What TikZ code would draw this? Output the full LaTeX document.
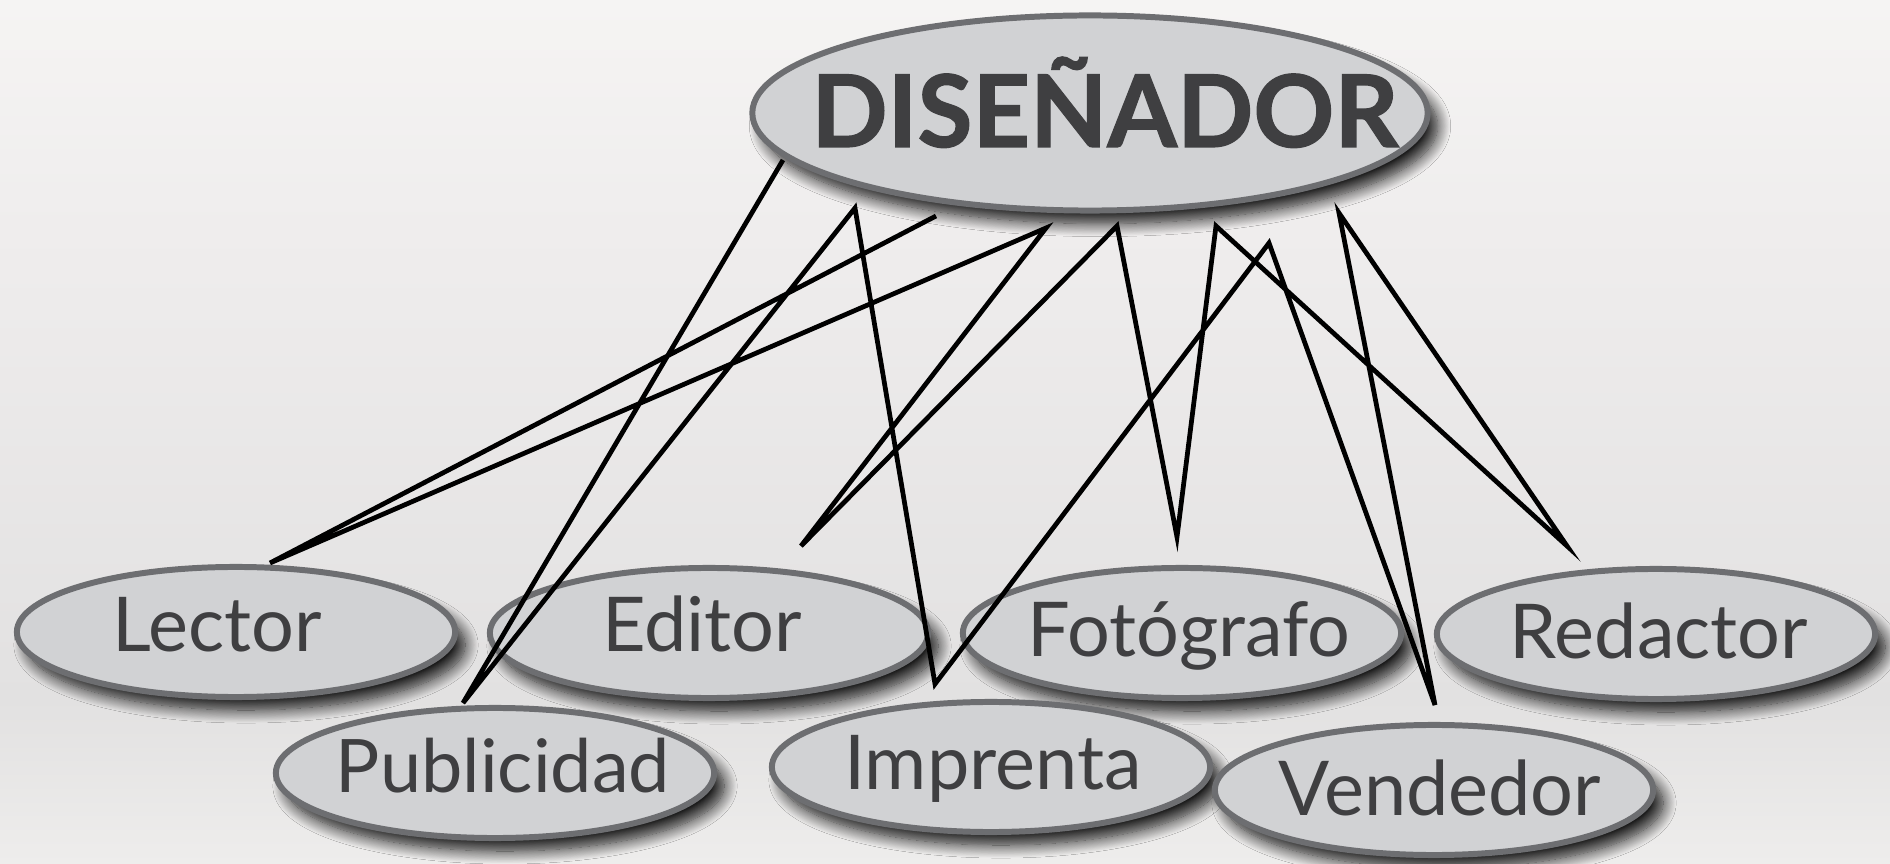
\documentclass[tikz,border=0pt]{standalone}
\usepackage{fontspec}
\setmainfont{Lato}
\newfontfamily\heavyfont{Lato}[UprightFont=* Bold, UprightFeatures={FakeBold=1.2}]
\usetikzlibrary{shapes.geometric,shadows.blur}
\definecolor{ovalfill}{HTML}{D1D2D4}
\definecolor{ovaldraw}{HTML}{6D6E71}
\definecolor{txtcol}{HTML}{3F3F41}
\definecolor{bgA}{HTML}{F5F4F3}
\definecolor{bgB}{HTML}{EFEDED}
\definecolor{bgC}{HTML}{E2E1E1}
\definecolor{bgD}{HTML}{EEEDEC}
\begin{document}
\begin{tikzpicture}[x=0.01cm,y=-0.01cm,
  oval/.style={ellipse, draw=ovaldraw, fill=ovalfill, line width=1.7pt, inner sep=0pt,
    minimum width=4.38cm, minimum height=1.30cm,
    blur shadow={shadow xshift=0.1cm, shadow yshift=-0.13cm, shadow blur radius=0.13cm,
      shadow blur steps=16, shadow opacity=90}},
  lbl/.style={text=txtcol, anchor=base, inner sep=0pt, font=\fontsize{21.5}{25}\selectfont},
  wire/.style={line width=1.35pt, black, line join=miter}
]
\useasboundingbox (0,0) rectangle (1890,864);
\shade[top color=bgA, bottom color=bgB] (0,0) rectangle (1890,231);
\shade[top color=bgB, bottom color=bgC] (0,229) rectangle (1890,701);
\shade[top color=bgC, bottom color=bgD] (0,699) rectangle (1890,864);

% top node
\node[oval, minimum width=6.75cm, minimum height=1.95cm] (dis) at (1090,113) {};
\node[lbl, font=\fontsize{28.5}{32}\heavyfont] (disT) at (1105,147) {DISEÑADOR};

% upper row
\node[oval] (lector) at (236,632) {};
\node[lbl] (lectorT) at (217,652) {Lector};
\node[oval] (editor) at (709,633) {};
\node[lbl] (editorT) at (702,652) {Editor};
\node[oval] (foto) at (1182,633) {};
\node[lbl] (fotoT) at (1189,657) {Fotógrafo};
\node[oval] (redac) at (1656,634) {};
\node[lbl] (redacT) at (1659,659) {Redactor};

% lower row
\node[oval] (publi) at (495,773) {};
\node[lbl, font=\fontsize{21}{25}\selectfont] (publiT) at (503,792) {Publicidad};
\node[oval] (impr) at (991,767) {};
\node[lbl] (imprT) at (993,790) {Imprenta};
\node[oval] (vend) at (1434,790) {};
\node[lbl] (vendT) at (1440,815) {Vendedor};

% zigzag connector vertices
\coordinate (p1) at (783,160);
\coordinate (p2) at (463,703);
\coordinate (p3) at (855,208);
\coordinate (p4) at (935,684);
\coordinate (p5) at (1269,243);
\coordinate (p6) at (1435,705);
\coordinate (p7) at (1339,213);
\coordinate (p8) at (1567,546);
\coordinate (p9) at (1216,226);
\coordinate (p10) at (1177,537);
\coordinate (p11) at (1117,226);
\coordinate (p12) at (801,546);
\coordinate (p13) at (1046,228);
\coordinate (p14) at (270,563);
\coordinate (p15) at (936,216);

\draw[wire] (p1) -- (p2) -- (p3) -- (p4) -- (p5) -- (p6) -- (p7) -- (p8)
  -- (p9) -- (p10) -- (p11) -- (p12) -- (p13) -- (p14) -- (p15);
\end{tikzpicture}
\end{document}
